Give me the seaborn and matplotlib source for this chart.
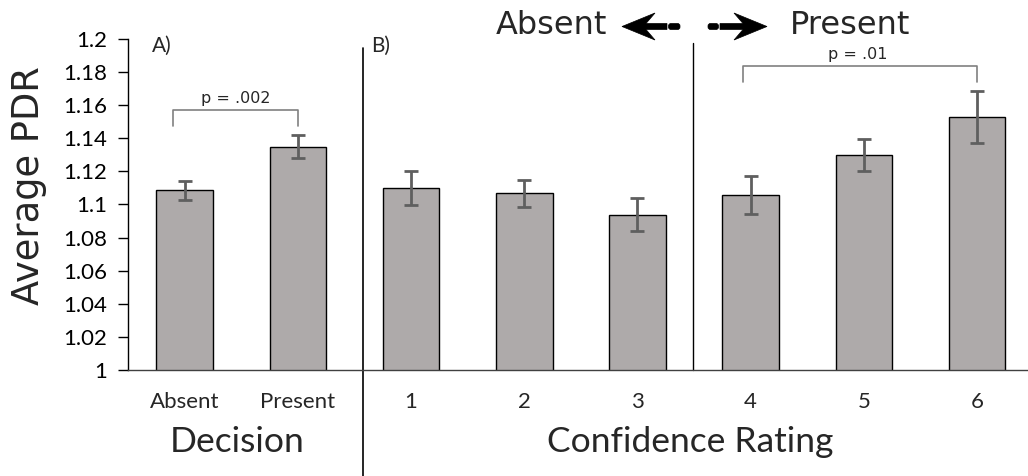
import numpy as np
import pandas as pd
import matplotlib
matplotlib.use("Agg")
import matplotlib.pyplot as plt
from matplotlib.patches import Polygon, FancyBboxPatch
from matplotlib.transforms import Affine2D, blended_transform_factory
import seaborn as sns

# Mean pupil dilation ratio with standard errors
decision_labels = ["Absent", "Present"]
decision_means = [1.1085, 1.135]
decision_sem = [0.006, 0.0072]

confidence_labels = ["1", "2", "3", "4", "5", "6"]
confidence_means = [1.1097, 1.1067, 1.0939, 1.1056, 1.1299, 1.1529]
confidence_sem = [0.0103, 0.0082, 0.0098, 0.0115, 0.0094, 0.0158]

y_ticks = [1.0, 1.02, 1.04, 1.06, 1.08, 1.1, 1.12, 1.14, 1.16, 1.18, 1.2]

labels = decision_labels + confidence_labels
means = decision_means + confidence_means
sems = decision_sem + confidence_sem
df = pd.DataFrame({"condition": labels, "pdr": means, "sem": sems})

sns.set_style("ticks")
plt.rcParams["font.family"] = ["Lato", "DejaVu Sans"]

W, H = 1028, 476
fig = plt.figure(figsize=(W / 100, H / 100), dpi=100)
ax = fig.add_axes([128 / W, 106 / H, (W - 128) / W, 331 / H])

bar_color = "#AEAAAA"
sns.barplot(data=df, x="condition", y="pdr", order=labels, color=bar_color,
            edgecolor="black", linewidth=1.0, width=0.5, errorbar=None,
            saturation=1, ax=ax)
xpos = np.arange(len(labels))
ax.errorbar(xpos, df["pdr"], yerr=df["sem"], fmt="none", ecolor="#5F5F5F",
            elinewidth=2, capsize=4.8, capthick=2, zorder=5)

ax.set_ylim(1.0, 1.2)
ax.set_xlim(-0.5, -0.5 + (W - 128) / 113.2)
ax.set_yticks(y_ticks)
ax.set_yticklabels([f"{t:g}" for t in y_ticks])
ax.tick_params(axis="y", length=7, width=1, pad=8, labelsize=16, colors="black")
ax.tick_params(axis="x", length=0, pad=16, labelsize=16)
ax.set_xlabel("")
ax.set_ylabel("")
sns.despine(ax=ax)
ax.spines["left"].set_color("black")
ax.spines["left"].set_linewidth(1.0)
ax.spines["bottom"].set_color("#404040")
ax.spines["bottom"].set_linewidth(1.0)

# Panel separators
bt = blended_transform_factory(ax.transData, ax.transAxes)
ax.plot([1.575, 1.575], [-0.32, 0.973], transform=bt, color="black", lw=1.2, clip_on=False)
ax.plot([4.49, 4.49], [0.0, 0.988], transform=bt, color="black", lw=1.0, clip_on=False)

# Significance brackets
br = "#808080"
ax.plot([-0.1, -0.1, 1.0, 1.0], [1.1473, 1.157, 1.157, 1.1473], color=br, lw=1.2, clip_on=False)
ax.text(0.45, 1.1595, "p = .002", ha="center", va="bottom", fontsize=11.5,
        family="DejaVu Sans")
ax.plot([4.93, 4.93, 7.0, 7.0], [1.1741, 1.1838, 1.1838, 1.1741], color=br, lw=1.2, clip_on=False)
ax.text(5.95, 1.186, "p = .01", ha="center", va="bottom", fontsize=11.5,
        family="DejaVu Sans")

# Panel letters
ax.text(-0.29, 1.196, "A)", ha="left", va="center", fontsize=15)
ax.text(1.65, 1.196, "B)", ha="left", va="center", fontsize=15)

# Figure-level labels placed in pixel coordinates
pix = Affine2D().scale(1 / W, -1 / H).translate(0, 1) + fig.transFigure
fig.text(29, 186, "Average PDR", transform=pix, rotation=90, ha="center", va="center",
         fontsize=26.5, family="DejaVu Sans")
fig.text(237, 442, "Decision", transform=pix, ha="center", va="center", fontsize=25.5)
fig.text(690, 442, "Confidence Rating", transform=pix, ha="center", va="center", fontsize=25.5)
fig.text(607, 25, "Absent", transform=pix, ha="right", va="center", fontsize=23,
         family="DejaVu Sans")
fig.text(790, 25, "Present", transform=pix, ha="left", va="center", fontsize=23,
         family="DejaVu Sans")


def arrow(tip_x, tail_x, gap_x, yc=26.5):
    d = 1 if tail_x > tip_x else -1
    hl, hw, notch, sw = 33, 13.5, 9, 3
    back = tip_x + d * hl
    join = back - d * notch
    pts = [(tip_x, yc), (back, yc - hw), (join, yc - sw),
           (gap_x, yc - sw), (gap_x, yc + sw), (join, yc + sw),
           (back, yc + hw)]
    fig.patches.append(Polygon(pts, closed=True, transform=pix, facecolor="black",
                               edgecolor="black", lw=0.5))
    x0 = gap_x + d * 1.5
    fig.patches.append(FancyBboxPatch((min(x0, tail_x), yc - sw), abs(tail_x - x0), 2 * sw,
                                      boxstyle="round,pad=0,rounding_size=2.5",
                                      transform=pix, facecolor="black",
                                      edgecolor="black", lw=0.5))


arrow(622, 680, 667)
arrow(767, 708, 720)

fig.savefig("out.png", dpi=100)
